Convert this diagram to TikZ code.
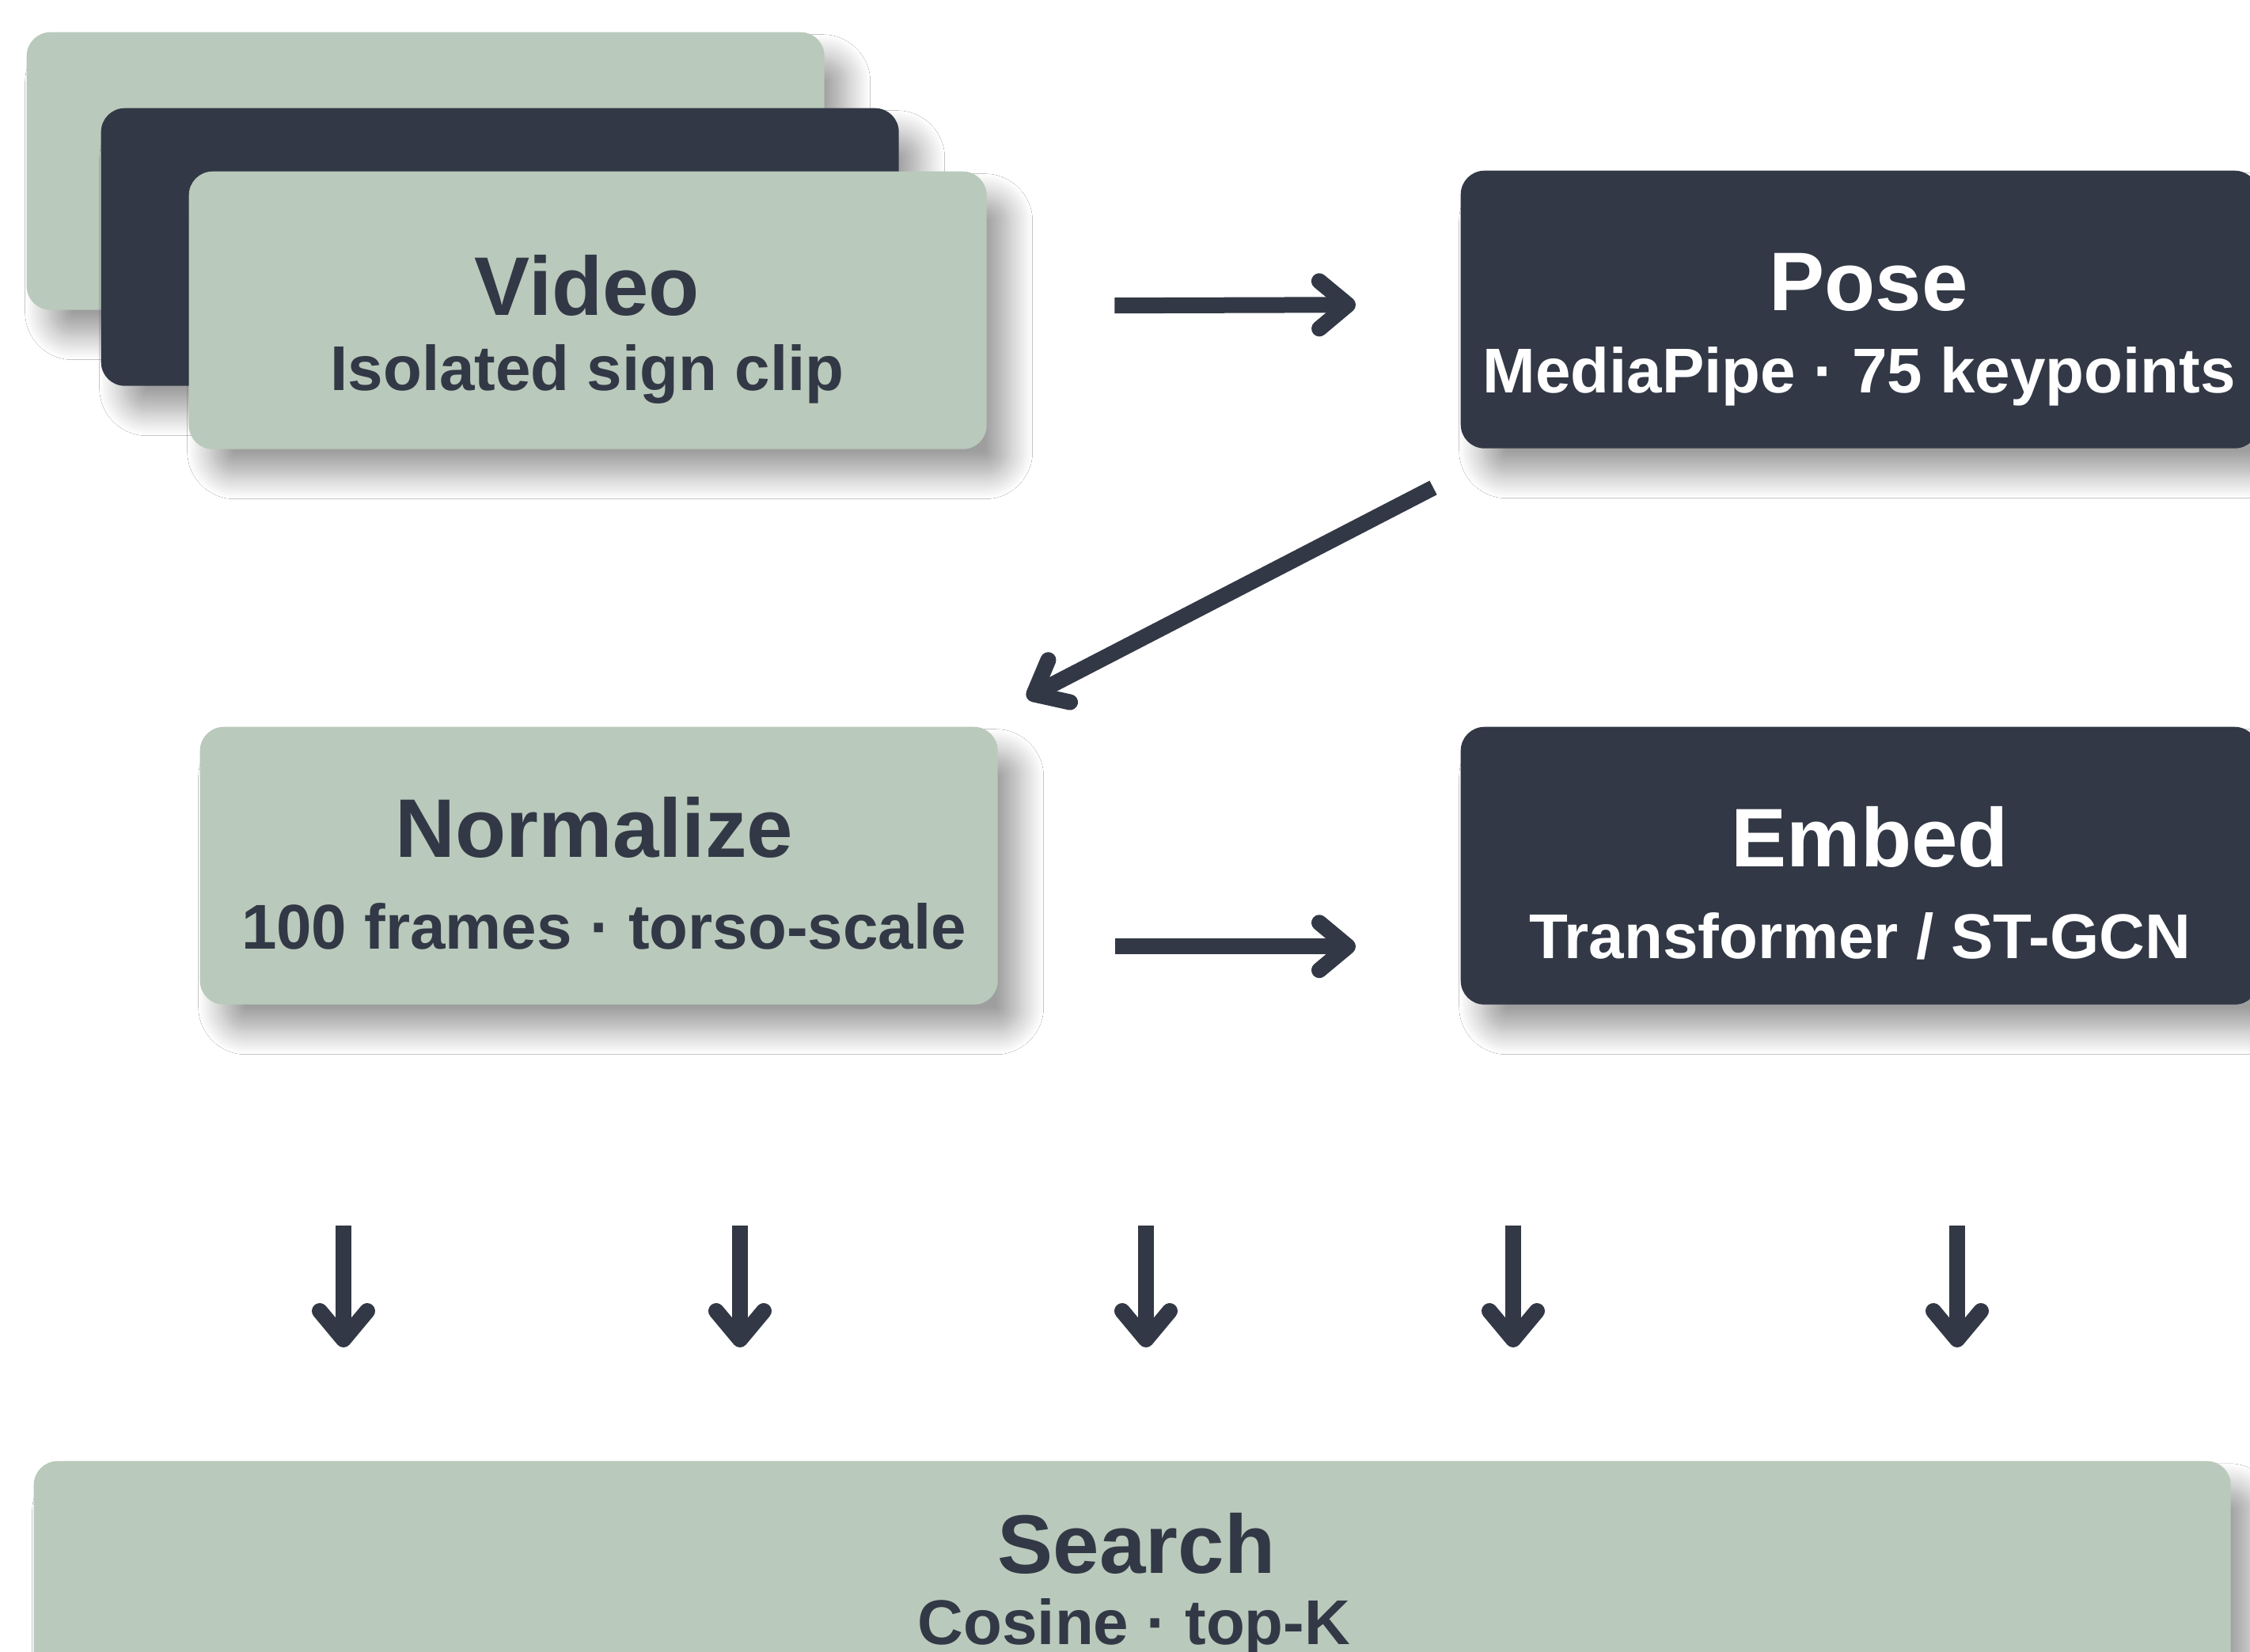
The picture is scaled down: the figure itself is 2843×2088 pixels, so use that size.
\documentclass[tikz,border=0pt]{standalone}
\usepackage{fontspec}
\setmainfont{Liberation Sans}
\usetikzlibrary{arrows.meta,shadows.blur,calc}
\definecolor{sage}{RGB}{185,201,187}
\definecolor{ink}{RGB}{50,56,69}
\newcommand\titlesize{\fontsize{29.9pt}{34pt}\selectfont\bfseries}
\newcommand\subsize{\fontsize{22.76pt}{26pt}\selectfont\bfseries}

\begin{document}
\begin{tikzpicture}[x=0.1mm,y=-0.1mm,
  card/.style={rounded corners=3mm, minimum width=100.8mm, minimum height=35.1mm,
    anchor=north west, inner sep=0pt,
    blur shadow={shadow xshift=2.8mm, shadow yshift=-3.3mm,
      shadow blur radius=3mm, shadow blur steps=24, shadow opacity=38}},
  cardlight/.style={card, fill=sage},
  carddark/.style={card, fill=ink},
  ttl/.style={anchor=base, inner sep=0pt, font=\titlesize},
  sub/.style={anchor=base, inner sep=0pt, font=\subsize},
  arr/.style={draw=ink, line width=2mm,
    -{Straight Barb[length=3.6mm,width=6mm,round]}}
]
% canvas
\fill[white] (0,0) rectangle (2843,2088);
\useasboundingbox (0,0) rectangle (2843,2088);

% stacked video cards
\node[cardlight] (back1) at (33,40) {};
\node[carddark]  (back2) at (127,136) {};
\node[cardlight] (video) at (238,216) {};

% stage boxes
\node[carddark]  (pose)  at (1845,215) {};
\node[cardlight] (norm)  at (252,918) {};
\node[carddark]  (embed) at (1845,918) {};
\node[cardlight, minimum width=277.6mm] (search) at (42,1846) {};

% labels
\node[ttl, text=ink]   (videoT) at (742,398)  {Video};
\node[sub, text=ink]   (videoS) at (742,493)  {Isolated sign clip};
\node[ttl, text=white] (poseT)  at (2361,392) {Pose};
\node[sub, text=white] (poseS)  at (2349,496) {MediaPipe · 75 keypoints};
\node[ttl, text=ink]   (normT)  at (751,1083) {Normalize};
\node[sub, text=ink]   (normS)  at (763,1199) {100 frames · torso-scale};
\node[ttl, text=white] (embT)   at (2363,1095) {Embed};
\node[sub, text=white] (embS)   at (2350,1211) {Transformer / ST-GCN};
\node[ttl, text=ink]   (srchT)  at (1436,1988) {Search};
\node[sub, text=ink]   (srchS)  at (1433,2078) {Cosine · top-K};

% flow arrows
\draw[arr] ($(video.east)+(161,-6)$) -- ($(pose.west)+(-132,-6)$);
\draw[arr] ($(pose.south west)+(-34,49)$) -- ($(norm.north east)+(36,-36)$);
\draw[arr] ($(norm.east)+(148,102)$) -- ($(embed.west)+(-132,102)$);

% arrows into the search stage
\foreach \k/\x in {1/434,2/935,3/1448,4/1912,5/2473}{
  \coordinate (d\k) at (\x,1549);
  \draw[arr] (d\k) -- ($(d\k |- search.north)+(0,-143)$);
}
\end{tikzpicture}
\end{document}
